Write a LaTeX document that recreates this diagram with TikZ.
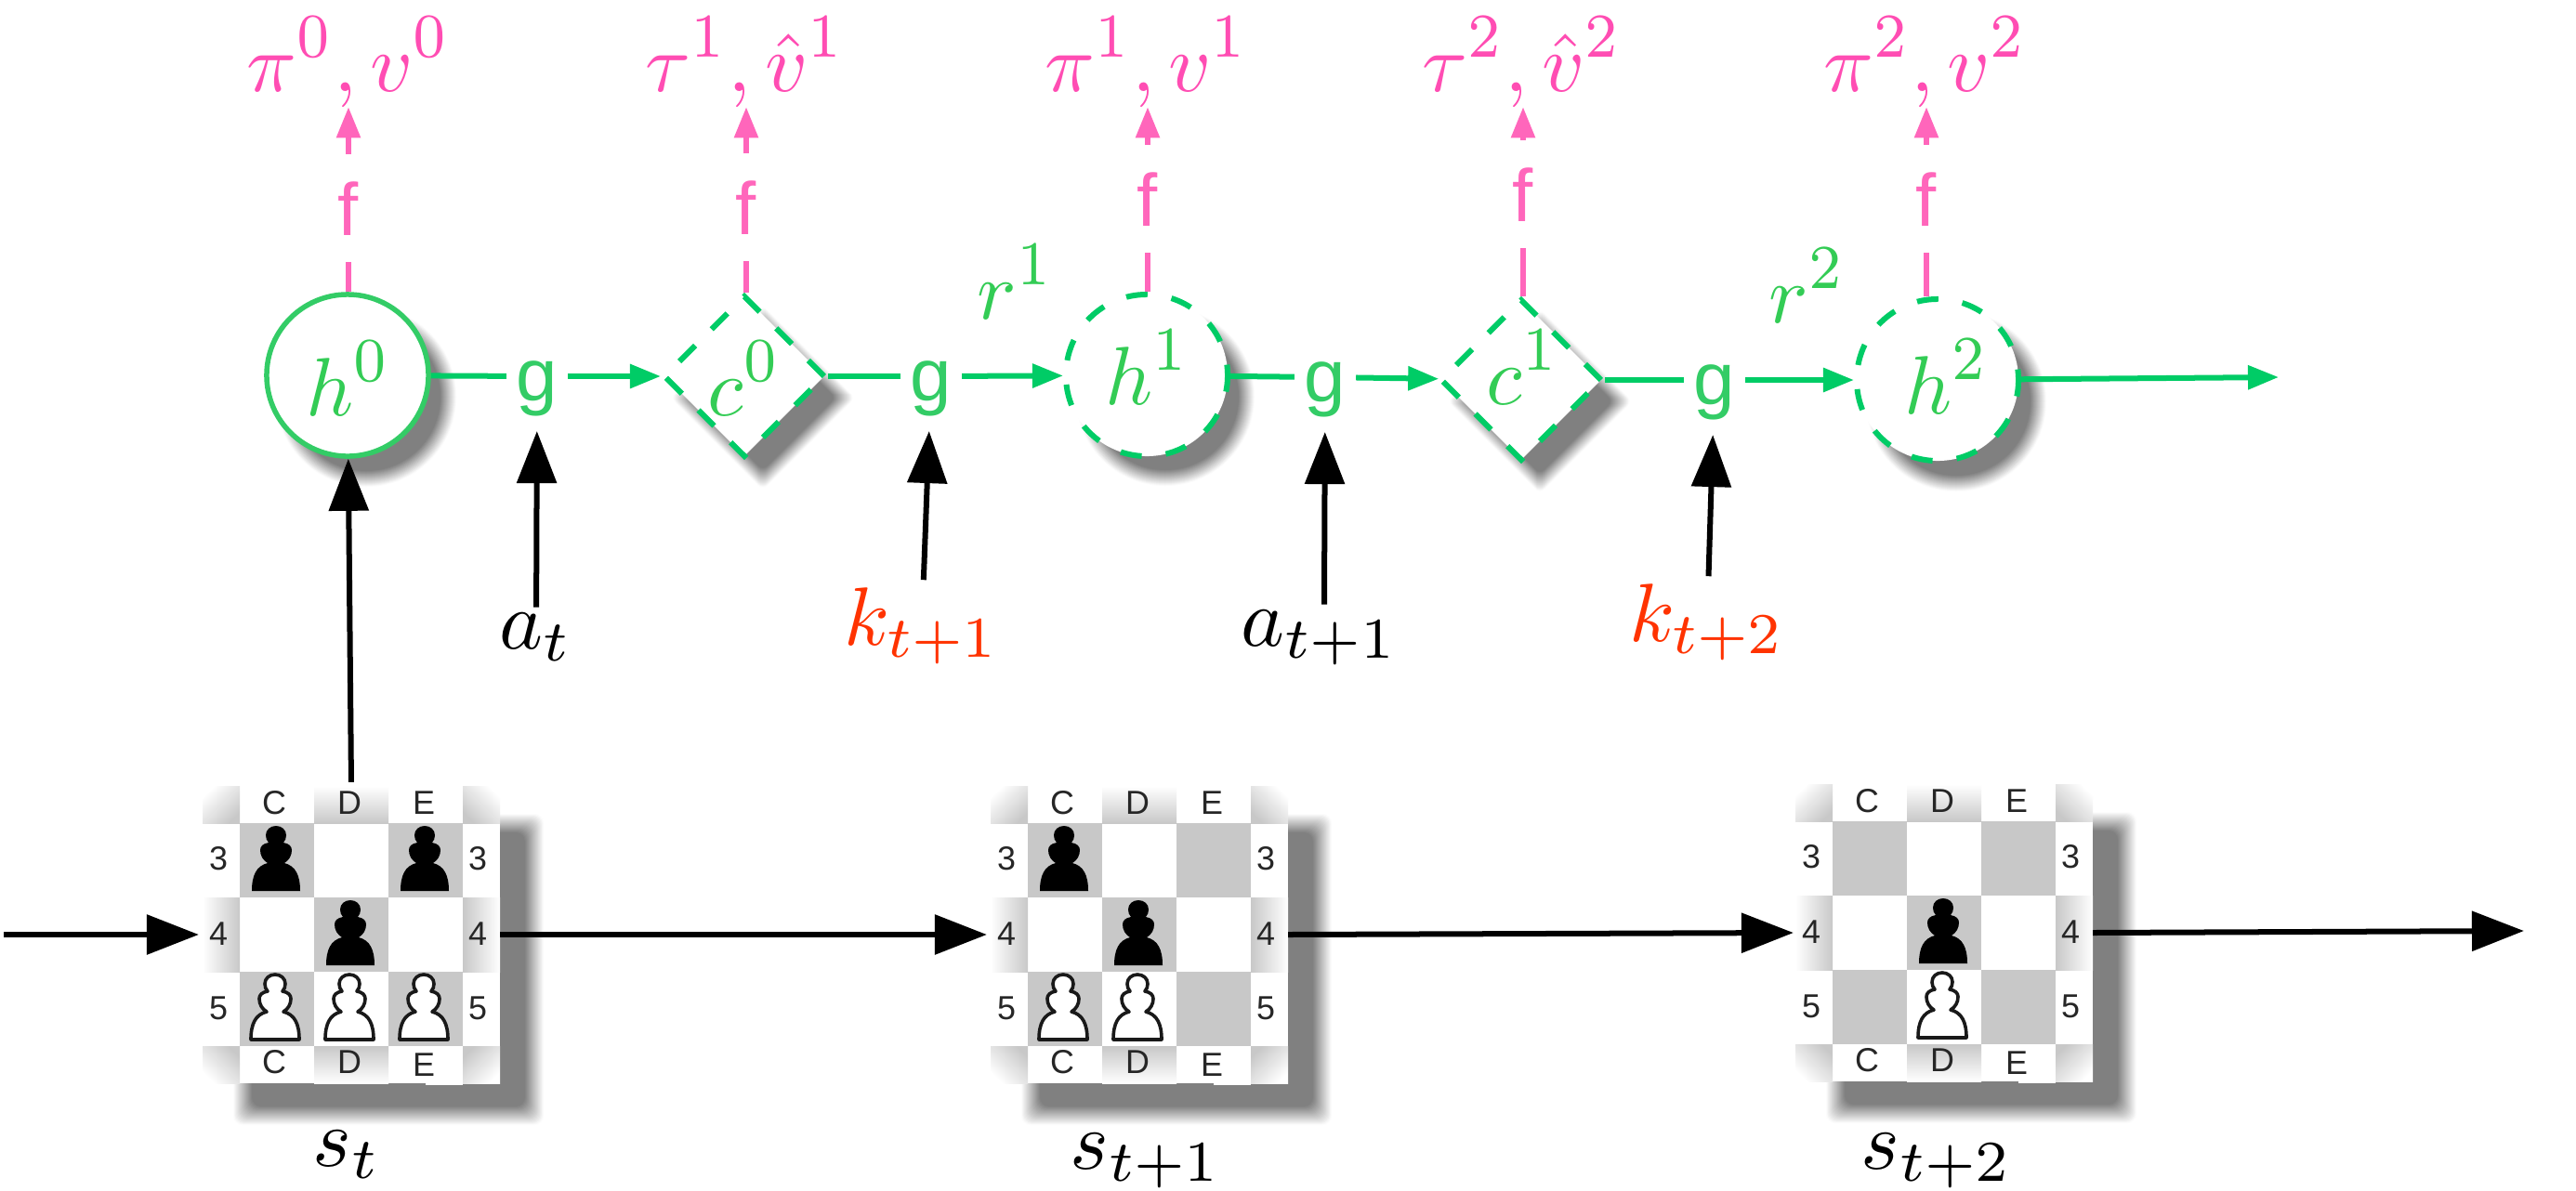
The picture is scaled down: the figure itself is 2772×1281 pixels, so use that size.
\documentclass[tikz,border=0pt]{standalone}
\usepackage[no-math]{fontspec}
\newfontfamily\labelsans{Liberation Sans}
\usetikzlibrary{arrows.meta,shapes.geometric}
\definecolor{stategreen}{HTML}{00CC66}
\definecolor{textgreen}{HTML}{33CC55}
\definecolor{fgreen}{HTML}{33CC66}
\definecolor{fpink}{HTML}{FF66BB}
\definecolor{textpink}{HTML}{FF4DB3}
\definecolor{chancered}{HTML}{FF3300}
\definecolor{boardgray}{HTML}{C8C8C8}
\newcommand\bigmath[1]{\scalebox{2.53}{$\displaystyle #1$}}
\newcommand\tallsup[1]{\scalebox{1}[1.08]{$\scriptstyle #1$}}
\tikzset{
  x=0.01cm,y=-0.01cm,
  mathlabel/.style={anchor=base,inner sep=0pt,outer sep=0pt},
  pinklabel/.style={mathlabel,text=textpink},
  greenlabel/.style={mathlabel,text=textgreen},
  blacklabel/.style={mathlabel,inner sep=0.6mm},
  redlabel/.style={mathlabel,text=chancered,inner sep=0.8mm},
  gnode/.style={font=\labelsans\fontsize{22.7}{26}\selectfont,text=fgreen,text height=6mm,text depth=0.8mm,
    inner xsep=1.1mm,inner ysep=2.5mm,outer sep=0pt},
  fnode/.style={font=\labelsans\fontsize{22.7}{26}\selectfont,text=fpink,anchor=base,inner xsep=0pt,inner ysep=2.9mm,outer sep=0pt},
  statebase/.style={fill=white,inner sep=0pt,minimum size=17.4mm},
  firstcircle/.style={statebase,circle,draw=fgreen,line width=0.55mm},
  latentcircle/.style={statebase,circle,draw=stategreen,line width=0.6mm,
    dash pattern=on 2.3mm off 2.613mm,dash phase=1.15mm},
  chancediamond/.style={statebase,diamond,aspect=1,draw=stategreen,line width=0.6mm,
    dash pattern=on 2.4mm off 2.5mm},
  boardnode/.style={minimum size=32mm,inner sep=0pt,outer sep=0pt},
  greenflow/.style={draw=stategreen,line width=0.6mm},
  greenarrow/.style={greenflow,-{Triangle[length=3.3mm,width=2.5mm]}},
  pinkflow/.style={draw=fpink,line width=0.55mm},
  pinkarrow/.style={pinkflow,-{Triangle[length=3.3mm,width=2.5mm]}},
  blackarrow/.style={draw=black,line width=0.6mm,-{Triangle[length=5.6mm,width=4.2mm]}},
  boardtext/.style={font=\labelsans\fontsize{10.2}{12}\selectfont,inner sep=0pt,text=black!85},
  pawnbody/.pic={
    \path[pic actions] (-26,73) -- (26,73)
      .. controls (26,56) and (21,46) .. (9,43)
      .. controls (14,40) and (17,35) .. (17,29)
      .. controls (17,25) and (14,22) .. (8,21)
      .. controls (10,19) and (11,16) .. (11,13)
      .. controls (11,7) and (6,3) .. (0,3)
      .. controls (-6,3) and (-11,7) .. (-11,13)
      .. controls (-11,16) and (-10,19) .. (-8,21)
      .. controls (-14,22) and (-17,25) .. (-17,29)
      .. controls (-17,35) and (-14,40) .. (-9,43)
      .. controls (-21,46) and (-26,56) .. (-26,73) -- cycle;
  },
  blackpawn/.style={fill=black},
  whitepawn/.style={fill=white,draw=black!90,line width=0.36mm,line join=round},
}
% Soft drop shadows built from nested opaque layers on the white page
\newcommand\softrect[4]{%
  \foreach \d [evaluate=\d as \g using {50*(11.5-\d)/20.5}] in {11,10,...,-9}
    \fill[black!\g,rounded corners=1mm] ({#1-\d},{#2-\d}) rectangle ({#3+\d},{#4+\d});}
\newcommand\softcircle[3]{%
  \foreach \d [evaluate=\d as \g using {50*(10.5-\d)/17.5}] in {10,9,...,-7}
    \fill[black!\g] (#1,#2) circle ({#3+\d});}
\newcommand\softdiamond[3]{%
  \foreach \d [evaluate=\d as \g using {50*(12.5-\d)/21.5}] in {12,11,...,-9}
    \fill[black!\g,rounded corners=0.6mm] ({#1+#3+\d},#2) -- (#1,{#2-#3-\d}) -- ({#1-#3-\d},#2) -- (#1,{#2+#3+\d}) -- cycle;}
% Board drawing: name, left edge, top edge, black pawns, white pawns
\newcommand\pawnboard[5]{%
  \softrect{#2+44}{#3+41}{#2+356}{#3+354}
  \begin{scope}[shift={(#2,#3)}]
    \fill[white] (0,0) rectangle (320,320);
    \fill[white] (240,280) rectangle (280,322);
    \foreach \c/\r in {0/0,2/0,1/1,0/2,2/2}
      \fill[boardgray] ({40+80*\c},{40+80*\r}) rectangle ++(80,80);
    \shade[top color=white,bottom color=boardgray,shading angle=45] (0,0) rectangle (40,40);
    \shade[top color=white,bottom color=boardgray,shading angle=-45] (280,0) rectangle (320,40);
    \shade[top color=white,bottom color=boardgray,shading angle=135] (0,280) rectangle (40,320);
    \shade[top color=white,bottom color=boardgray,shading angle=-135] (280,280) rectangle (320,320);
    \shade[top color=white,bottom color=boardgray] (120,0) rectangle (200,40);
    \shade[top color=boardgray,bottom color=white] (120,280) rectangle (200,320);
    \shade[left color=white,right color=boardgray] (0,120) rectangle (40,200);
    \shade[left color=boardgray,right color=white] (280,120) rectangle (320,200);
    \node[boardtext] (#1tc) at (77,18) {C};
    \node[boardtext] (#1td) at (158,18) {D};
    \node[boardtext] (#1te) at (238,18) {E};
    \node[boardtext] (#1bc) at (77,297) {C};
    \node[boardtext] (#1bd) at (158,297) {D};
    \node[boardtext] (#1be) at (238,300) {E};
    \node[boardtext] (#1lc) at (17,78) {3};
    \node[boardtext] (#1ld) at (17,159) {4};
    \node[boardtext] (#1le) at (17,239) {5};
    \node[boardtext] (#1rc) at (296,78) {3};
    \node[boardtext] (#1rd) at (296,159) {4};
    \node[boardtext] (#1re) at (296,239) {5};
    \foreach \c/\r in {#4}
      \pic[blackpawn] at ({79+80*\c},{40+80*\r}) {pawnbody};
    \foreach \c/\r in {#5}
      \pic[whitepawn] at ({78+80*\c},{40+80*\r}) {pawnbody};
  \end{scope}
  \node[boardnode] (#1) at (#2+160,#3+160) {};}
\begin{document}
\begin{tikzpicture}
\useasboundingbox (0,0) rectangle (2772,1281);
\fill[white] (0,0) rectangle (2772,1281);

% Shadows under the latent states
\softcircle{394}{427}{87}
\softdiamond{821}{428}{87}
\softcircle{1254}{427}{86}
\softdiamond{1657}{432}{87}
\softcircle{2105}{432}{87}

% Boards of the observed game positions
\pawnboard{boardA}{218}{846}{0/0,2/0,1/1}{0/2,1/2,2/2}
\pawnboard{boardB}{1066}{846}{0/0,1/1}{0/2,1/2}
\pawnboard{boardC}{1932}{844}{1/1}{1/2}

% Latent states
\node[firstcircle] (h0) at (374,404) {};
\node[chancediamond] (c0) at (801,405) {};
\node[latentcircle] (h1) at (1234,404) {};
\node[chancediamond] (c1) at (1637,409) {};
\node[latentcircle] (h2) at (2085,409) {};
\node[greenlabel] (th0) at (375,447) {\bigmath{h^{\tallsup{0}}}};
\node[greenlabel] (tc0) at (801,447) {\bigmath{c^{\tallsup{0}}}};
\node[greenlabel] (th1) at (1235,435) {\bigmath{h^{\tallsup{1}}}};
\node[greenlabel] (tc1) at (1639,435) {\bigmath{c^{\tallsup{1}}}};
\node[greenlabel] (th2) at (2095,445) {\bigmath{h^{\tallsup{2}}}};

% Dynamics and prediction functions
\node[gnode] (g1) at (578,405) {g};
\node[gnode] (g2) at (1002,405) {g};
\node[gnode] (g3) at (1426,406) {g};
\node[gnode] (g4) at (1845,409) {g};
\node[fnode] (f0) at (375,253) {f};
\node[fnode] (f1) at (803,252) {f};
\node[fnode] (f2) at (1235,243) {f};
\node[fnode] (f3) at (1639,238) {f};
\node[fnode] (f4) at (2073,243) {f};

% Prediction outputs and rewards
\node[pinklabel] (p0) at (375,98) {\bigmath{\pi^{\tallsup{0}},v^{\tallsup{0}}}};
\node[pinklabel] (p1) at (802,98) {\bigmath{\tau^{\tallsup{1}},\hat{v}^{\tallsup{1}}}};
\node[pinklabel] (p2) at (1234,98) {\bigmath{\pi^{\tallsup{1}},v^{\tallsup{1}}}};
\node[pinklabel] (p3) at (1638,98) {\bigmath{\tau^{\tallsup{2}},\hat{v}^{\tallsup{2}}}};
\node[pinklabel] (p4) at (2072,98) {\bigmath{\pi^{\tallsup{2}},v^{\tallsup{2}}}};
\node[greenlabel] (r1) at (1093,343) {\bigmath{r^{\tallsup{1}}}};
\node[greenlabel] (r2) at (1945,347) {\bigmath{r^{\tallsup{2}}}};

% Actions, chance outcomes and state names
\node[blacklabel] (a0) at (577,698) {\bigmath{a_t}};
\node[redlabel] (k1) at (992,694) {\bigmath{k_{t+1}}};
\node[blacklabel] (a1) at (1420,695) {\bigmath{a_{t+1}}};
\node[redlabel] (k2) at (1837,690) {\bigmath{k_{t+2}}};
\node[mathlabel] (s0) at (373,1255) {\bigmath{s_t}};
\node[mathlabel] (s1) at (1233,1258) {\bigmath{s_{t+1}}};
\node[mathlabel] (s2) at (2084,1258) {\bigmath{s_{t+2}}};

% Free ends
\coordinate (rowstart) at (4,1006);
\coordinate (rowend) at (2716,1002);
\coordinate (latentend) at (2452,406);

% Latent row connectors
\draw[greenflow] (h0) -- (g1);
\draw[greenarrow] (g1) -- (c0);
\draw[greenflow] (c0) -- (g2);
\draw[greenarrow] (g2) -- (h1);
\draw[greenflow] (h1) -- (g3);
\draw[greenarrow] (g3) -- (c1);
\draw[greenflow] (c1) -- (g4);
\draw[greenarrow] (g4) -- (h2);
\draw[greenarrow] (h2) -- (latentend);

% Prediction connectors
\draw[pinkflow] (h0.north -| f0) -- (f0);
\draw[pinkarrow] (f0) -- (p0.south -| f0);
\draw[pinkflow] (c0.north -| f1) -- (f1);
\draw[pinkarrow] (f1) -- (p1.south -| f1);
\draw[pinkflow] (h1.north -| f2) -- (f2);
\draw[pinkarrow] (f2) -- (p2.south -| f2);
\draw[pinkflow] (c1.north -| f3) -- (f3);
\draw[pinkarrow] (f3) -- (p3.south -| f3);
\draw[pinkflow] (h2.north -| f4) -- (f4);
\draw[pinkarrow] (f4) -- (p4.south -| f4);

% Action and outcome inputs
\draw[blackarrow] (a0) -- (g1);
\draw[blackarrow] (k1) -- (g2);
\draw[blackarrow] ([xshift=0.5mm]a1.north) -- (g3);
\draw[blackarrow] (k2) -- (g4);

% Environment row
\draw[blackarrow,shorten <=0.4mm] (boardA.north) -- (h0);
\draw[blackarrow,shorten >=0.4mm] (rowstart) -- (boardA.west);
\draw[blackarrow,shorten >=0.4mm] (boardA.east) -- (boardB.west);
\draw[blackarrow,shorten >=0.2mm] (boardB.east) -- (boardC.west);
\draw[blackarrow] (boardC.east) -- (rowend);
\end{tikzpicture}
\end{document}
